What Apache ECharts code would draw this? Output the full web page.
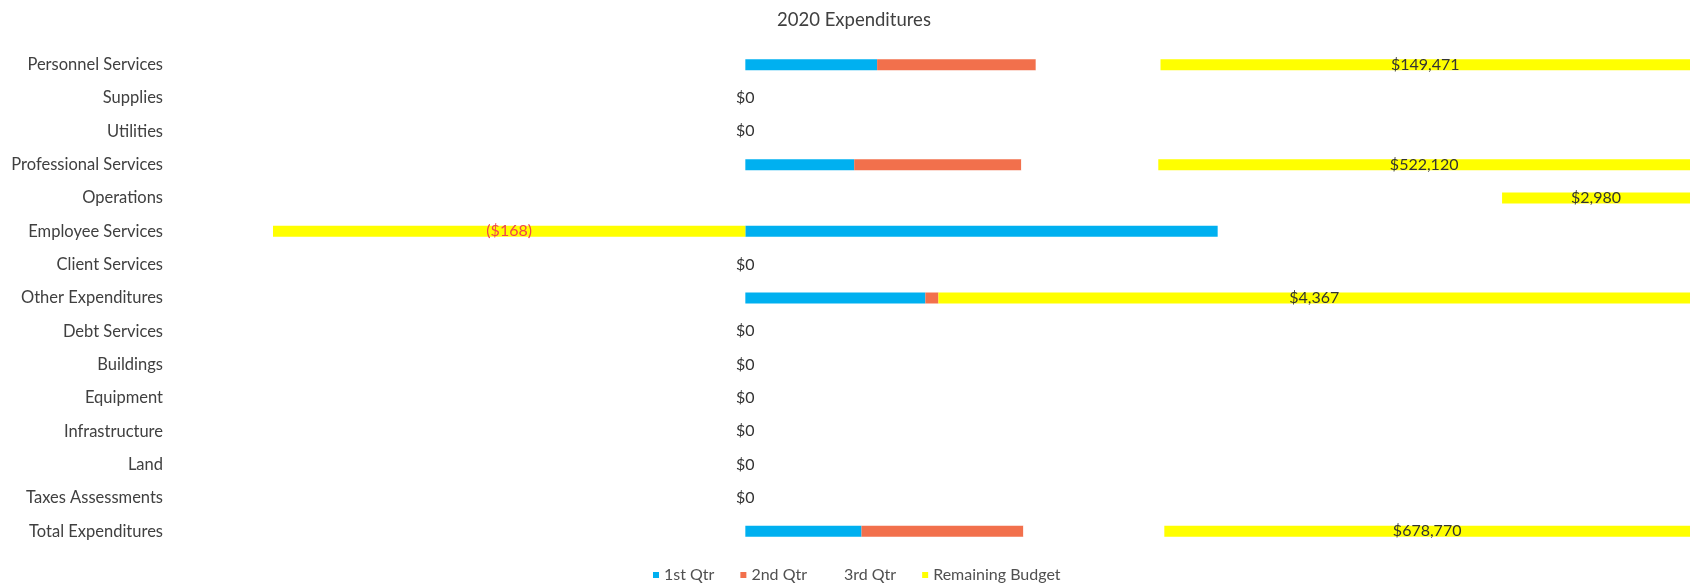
<!DOCTYPE html>
<html>
<head>
<meta charset="utf-8">
<title>2020 Expenditures</title>
<script src="https://cdn.jsdelivr.net/npm/echarts@6/dist/echarts.min.js"></script>
<style>
  html, body { margin: 0; padding: 0; background: #ffffff; }
  #chart { width: 1692px; height: 586px; }
</style>
</head>
<body>
<div id="chart"></div>
<script>
// Expense categories, top to bottom
const categories = [
  'Personnel Services', 'Supplies', 'Utilities', 'Professional Services',
  'Operations', 'Employee Services', 'Client Services', 'Other Expenditures',
  'Debt Services', 'Buildings', 'Equipment', 'Infrastructure', 'Land',
  'Taxes Assessments', 'Total Expenditures'
];

// Dollar amounts per category
const qtr1 = [37200, 0, 0, 106900, 0, 168, 0, 1046, 0, 0, 0, 0, 0, 0, 150000];
const qtr2 = [44800, 0, 0, 164100, 0, 0, 0, 76, 0, 0, 0, 0, 0, 0, 209000];
const qtr3 = [35200, 0, 0, 134500, 12000, 0, 0, 0, 0, 0, 0, 0, 0, 0, 182000];
const remaining = [149471, 0, 0, 522120, 2980, -168, 0, 4367, 0, 0, 0, 0, 0, 0, 678770];

const seriesNames = ['1st Qtr', '2nd Qtr', '3rd Qtr', 'Remaining Budget'];
const seriesColors = ['#00B0F0', '#F2704C', '#FFFFFF', '#FFFF00'];
const seriesValues = [qtr1, qtr2, qtr3, remaining];

// 100% stacking: each segment as a share of the row's absolute total
const rowTotals = categories.map((_, i) =>
  seriesValues.reduce((s, arr) => s + Math.abs(arr[i]), 0));
const share = arr => arr.map((v, i) => rowTotals[i] ? (v / rowTotals[i]) * 100 : 0);

function money(v) {
  const s = '$' + Math.abs(v).toLocaleString('en-US');
  return v < 0 ? '(' + s + ')' : s;
}

const FONT = 'Lato, "Open Sans", sans-serif';

const series = seriesValues.map((arr, k) => {
  const isRemaining = k === 3;
  return {
    name: seriesNames[k],
    type: 'bar',
    stack: 'total',
    barWidth: 11,
    itemStyle: { color: seriesColors[k] },
    emphasis: { disabled: true },
    data: share(arr).map((v, i) => {
      const item = { value: v };
      if (isRemaining && arr[i] < 0) {
        item.label = { color: '#F0444E' };
      }
      return item;
    }),
    label: isRemaining ? {
      show: true,
      position: 'inside',
      fontFamily: FONT,
      fontSize: 16,
      color: '#333333',
      formatter: p => money(remaining[p.dataIndex])
    } : { show: false }
  };
});

const chart = echarts.init(document.getElementById('chart'), null, { renderer: 'canvas' });
chart.setOption({
  animation: false,
  backgroundColor: '#ffffff',
  title: {
    text: '2020 Expenditures',
    left: 772,
    top: 6,
    textStyle: { fontFamily: FONT, fontSize: 18.5, fontWeight: 'normal', color: '#404040' }
  },
  legend: {
    data: seriesNames,
    top: 562,
    left: 648,
    icon: 'rect',
    itemWidth: 6,
    itemHeight: 6,
    itemGap: 26,
    textStyle: { fontFamily: FONT, fontSize: 16, color: '#505050' }
  },
  grid: { left: 273, right: 2, top: 48, height: 500, containLabel: false },
  xAxis: {
    type: 'value',
    min: -50,
    max: 100,
    show: false
  },
  yAxis: {
    type: 'category',
    inverse: true,
    data: categories,
    axisLine: { show: false },
    axisTick: { show: false },
    splitLine: { show: false },
    axisLabel: {
      margin: 110,
      fontFamily: FONT,
      fontSize: 16.5,
      color: '#404040'
    }
  },
  series: series
});
</script>
</body>
</html>
